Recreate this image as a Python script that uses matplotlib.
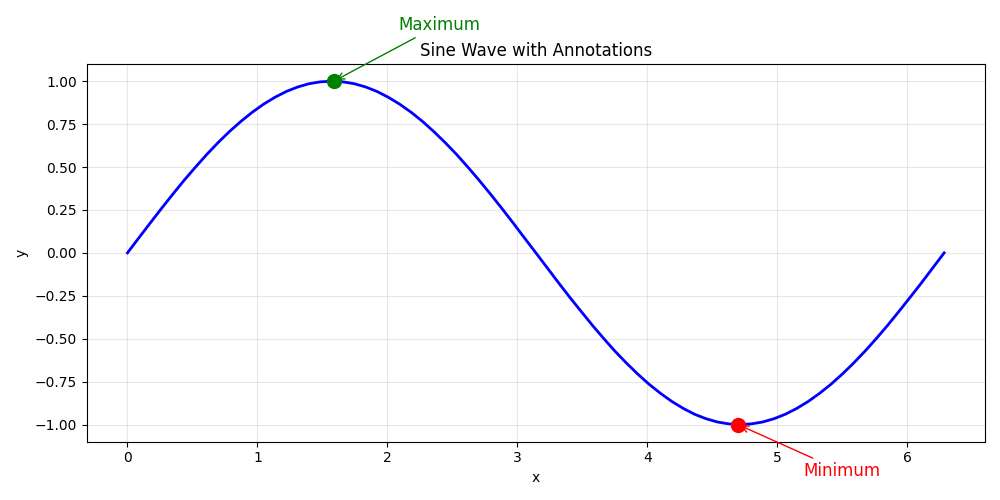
import matplotlib
matplotlib.use("Agg")
import matplotlib.pyplot as plt

# curve samples (every 5 degrees)
x_vals = [0.000, 0.087, 0.175, 0.262, 0.349, 0.436, 0.524, 0.611, 0.698, 0.785, 0.873, 0.960,
          1.047, 1.134, 1.222, 1.309, 1.396, 1.484, 1.571, 1.658, 1.745, 1.833, 1.920, 2.007,
          2.094, 2.182, 2.269, 2.356, 2.443, 2.531, 2.618, 2.705, 2.793, 2.880, 2.967, 3.054,
          3.142, 3.229, 3.316, 3.403, 3.491, 3.578, 3.665, 3.752, 3.840, 3.927, 4.014, 4.102,
          4.189, 4.276, 4.363, 4.451, 4.538, 4.625, 4.712, 4.800, 4.887, 4.974, 5.061, 5.149,
          5.236, 5.323, 5.411, 5.498, 5.585, 5.672, 5.760, 5.847, 5.934, 6.021, 6.109, 6.196,
          6.283]
y_vals = [0.000, 0.087, 0.174, 0.259, 0.342, 0.423, 0.500, 0.574, 0.643, 0.707, 0.766, 0.819,
          0.866, 0.906, 0.940, 0.966, 0.985, 0.996, 1.000, 0.996, 0.985, 0.966, 0.940, 0.906,
          0.866, 0.819, 0.766, 0.707, 0.643, 0.574, 0.500, 0.423, 0.342, 0.259, 0.174, 0.087,
          0.000, -0.087, -0.174, -0.259, -0.342, -0.423, -0.500, -0.574, -0.643, -0.707, -0.766, -0.819,
          -0.866, -0.906, -0.940, -0.966, -0.985, -0.996, -1.000, -0.996, -0.985, -0.966, -0.940, -0.906,
          -0.866, -0.819, -0.766, -0.707, -0.643, -0.574, -0.500, -0.423, -0.342, -0.259, -0.174, -0.087,
          0.000]

max_pt = (1.587, 1.00)
min_pt = (4.697, -1.00)
max_text = (2.087, 1.30)
min_text = (5.197, -1.30)

fig, ax = plt.subplots(figsize=(10, 5), dpi=100)
ax.plot(x_vals, y_vals, color='blue', linewidth=2)
ax.plot(*max_pt, 'o', color='green', markersize=10)
ax.plot(*min_pt, 'o', color='red', markersize=10)

ax.annotate('Maximum', xy=max_pt, xytext=max_text, fontsize=12, color='green',
            arrowprops=dict(arrowstyle='->', color='green'))
ax.annotate('Minimum', xy=min_pt, xytext=min_text, fontsize=12, color='red',
            arrowprops=dict(arrowstyle='->', color='red'))

ax.set_title('Sine Wave with Annotations', fontsize=12)
ax.set_xlabel('x')
ax.set_ylabel('y')
ax.grid(True, alpha=0.3)

plt.tight_layout()
plt.savefig('out.png')
